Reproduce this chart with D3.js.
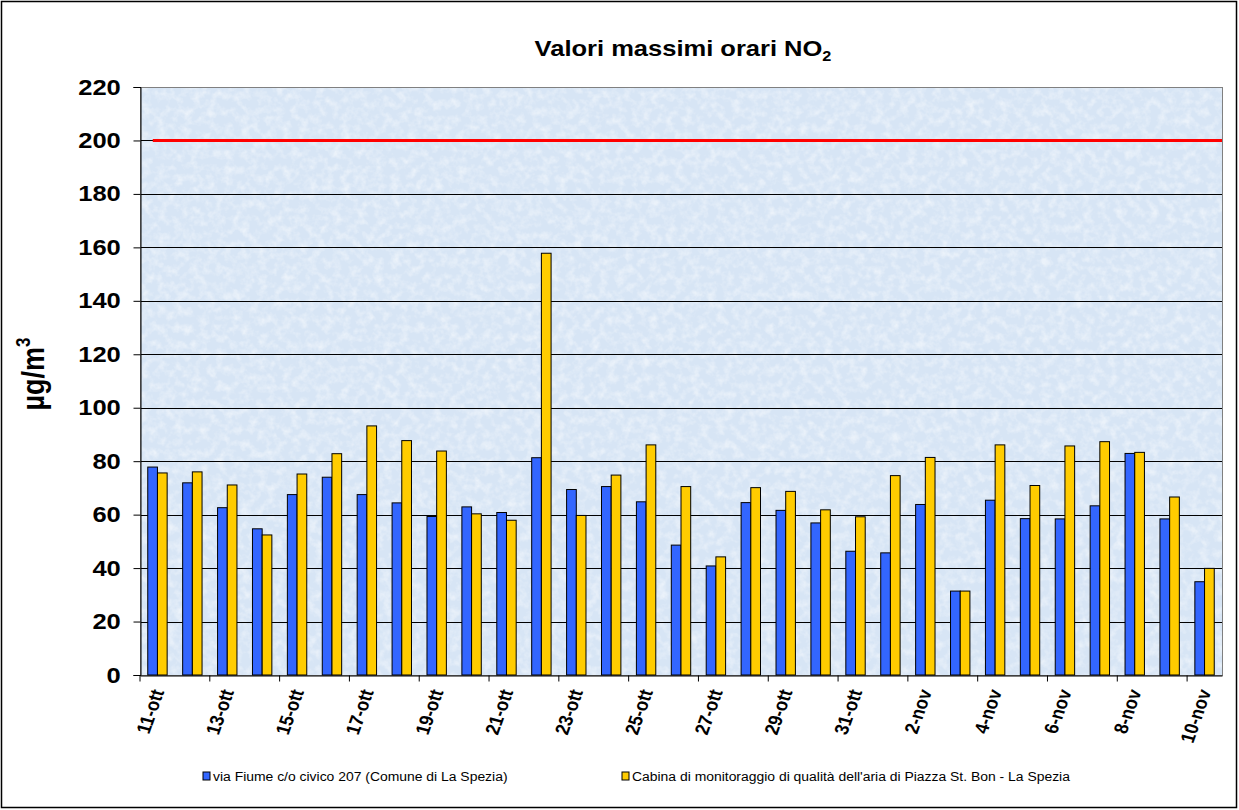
<!DOCTYPE html>
<html>
<head>
<meta charset="utf-8">
<script src="https://cdn.jsdelivr.net/npm/d3@7"></script>
<style>
  body { margin: 0; background: #fff; }
  svg { display: block; font-family: Arial, "Liberation Sans", sans-serif; }
</style>
</head>
<body>
<div id="chart"></div>
<script>
const days = [
  '11-ott','12-ott','13-ott','14-ott','15-ott','16-ott','17-ott','18-ott','19-ott','20-ott',
  '21-ott','22-ott','23-ott','24-ott','25-ott','26-ott','27-ott','28-ott','29-ott','30-ott',
  '31-ott','1-nov','2-nov','3-nov','4-nov','5-nov','6-nov','7-nov','8-nov','9-nov','10-nov'
];
const viaFiume = [
  77.8, 71.9, 62.6, 54.7, 67.5, 74.0, 67.5, 64.4, 59.3, 62.9,
  60.8, 81.3, 69.4, 70.5, 64.8, 48.6, 40.8, 64.5, 61.6, 56.9,
  46.3, 45.7, 63.8, 31.4, 65.4, 58.5, 58.4, 63.3, 82.9, 58.4, 34.9
];
const stBon = [
  75.6, 76.0, 71.1, 52.4, 75.2, 82.8, 93.2, 87.7, 83.8, 60.3,
  57.9, 157.8, 59.7, 74.8, 86.1, 70.5, 44.2, 70.1, 68.7, 61.8,
  59.2, 74.6, 81.4, 31.4, 86.1, 70.9, 85.7, 87.3, 83.3, 66.6, 39.9
];
const seriesNames = [
  'via Fiume c/o civico 207 (Comune di La Spezia)',
  "Cabina di monitoraggio di qualità dell'aria di Piazza St. Bon - La Spezia"
];
const seriesColors = ['#3366ff', '#ffcc00'];
const yTicks = [0, 20, 40, 60, 80, 100, 120, 140, 160, 180, 200, 220];
const limitValue = 200;

const width = 1239, height = 810;
const plot = {left: 140, right: 1222, top: 87, bottom: 675};
// the original picture is a bit wider than its fonts: stretch text horizontally
const stretch = 1.16;

const svg = d3.select('#chart').append('svg')
  .attr('width', width)
  .attr('height', height);

// background texture
const defs = svg.append('defs');
const filter = defs.append('filter').attr('id', 'tex')
  .attr('x', 0).attr('y', 0).attr('width', 1).attr('height', 1);
filter.append('feTurbulence')
  .attr('type', 'fractalNoise')
  .attr('baseFrequency', 0.12)
  .attr('numOctaves', 3)
  .attr('seed', 7);
filter.append('feColorMatrix')
  .attr('type', 'matrix')
  .attr('values', '0 0 0 0 1  0 0 0 0 1  0 0 0 0 1  2.2 0 0 0 -0.9');

svg.append('rect')
  .attr('x', 1.5).attr('y', 1.5)
  .attr('width', width - 4).attr('height', height - 4)
  .attr('fill', '#fff')
  .attr('stroke', '#000')
  .attr('stroke-width', 1.5);

const x0 = d3.scaleBand().domain(days).range([plot.left, plot.right]);
const x1 = d3.scaleBand().domain([0, 1]).range([0, x0.bandwidth()]).paddingOuter(0.8);
const y = d3.scaleLinear().domain([0, 220]).range([plot.bottom, plot.top]);

svg.append('rect')
  .attr('x', plot.left).attr('y', plot.top)
  .attr('width', plot.right - plot.left).attr('height', plot.bottom - plot.top)
  .attr('fill', '#d7e5f5');
svg.append('rect')
  .attr('x', plot.left).attr('y', plot.top)
  .attr('width', plot.right - plot.left).attr('height', plot.bottom - plot.top)
  .attr('fill', '#fff')
  .attr('filter', 'url(#tex)')
  .attr('opacity', 0.5);

// gridlines
svg.append('g')
  .selectAll('line')
  .data(yTicks.filter(d => d > 0 && d < 220))
  .join('line')
  .attr('x1', plot.left).attr('x2', plot.right)
  .attr('y1', d => Math.round(y(d)) + 0.5)
  .attr('y2', d => Math.round(y(d)) + 0.5)
  .attr('stroke', '#000')
  .attr('stroke-width', 1);

// plot border
svg.append('rect')
  .attr('x', plot.left + 0.5).attr('y', plot.top + 0.5)
  .attr('width', plot.right - plot.left).attr('height', plot.bottom - plot.top)
  .attr('fill', 'none')
  .attr('stroke', '#808080');

// bars
const groups = svg.append('g')
  .selectAll('g')
  .data(days)
  .join('g')
  .attr('transform', d => `translate(${x0(d)},0)`);

groups.selectAll('rect')
  .data((d, i) => [viaFiume[i], stBon[i]])
  .join('rect')
  .attr('x', (d, j) => x1(j))
  .attr('y', d => y(d))
  .attr('width', x1.bandwidth())
  .attr('height', d => y(0) - y(d))
  .attr('fill', (d, j) => seriesColors[j])
  .attr('stroke', '#000')
  .attr('stroke-width', 1);

// limit line
svg.append('line')
  .attr('x1', x0(days[0]) + x1(0) + 5)
  .attr('x2', plot.right)
  .attr('y1', y(limitValue))
  .attr('y2', y(limitValue))
  .attr('stroke', '#ff0000')
  .attr('stroke-width', 3);

// y axis
const yAxis = svg.append('g')
  .attr('transform', `translate(${plot.left + 0.5},0)`)
  .call(d3.axisLeft(y).tickValues(yTicks).tickSize(7).tickPadding(10));
yAxis.select('.domain').attr('stroke', '#000');
yAxis.selectAll('text')
  .attr('font-size', 22)
  .attr('font-weight', 'bold')
  .attr('font-family', 'Arial, "Liberation Sans", sans-serif')
  .attr('fill', '#000')
  .attr('transform', `scale(${stretch},1)`);

// x axis
const labelDays = days.filter((d, i) => i % 2 === 0);
const xAxis = svg.append('g')
  .attr('transform', `translate(0,${plot.bottom + 0.5})`)
  .call(d3.axisBottom(x0).tickValues(labelDays).tickSize(6).tickSizeOuter(0));
xAxis.select('.domain').attr('stroke', '#000');
xAxis.selectAll('.tick line')
  .attr('transform', `translate(${-x0.bandwidth() / 2},0)`);
xAxis.selectAll('.tick text')
  .attr('font-size', 17)
  .attr('font-weight', 'bold')
  .attr('font-family', 'Arial, "Liberation Sans", sans-serif')
  .attr('fill', '#000')
  .attr('text-anchor', 'end')
  .attr('dy', null)
  .attr('y', 0)
  .attr('transform', `translate(7,16) scale(${stretch},1) rotate(-73)`);

// title
const title = svg.append('text')
  .attr('transform', `translate(683,56) scale(${stretch},1)`)
  .attr('text-anchor', 'middle')
  .attr('font-size', 22)
  .attr('font-weight', 'bold');
title.append('tspan').text('Valori massimi orari NO');
title.append('tspan').text('2').attr('font-size', 14).attr('dy', 5);

// y label
const yLabel = svg.append('text')
  .attr('transform', `translate(44,374) scale(${stretch},1) rotate(-90)`)
  .attr('text-anchor', 'middle')
  .attr('font-size', 27)
  .attr('font-weight', 'bold');
yLabel.append('tspan').text('µg/m');
yLabel.append('tspan').text('3').attr('font-size', 17).attr('dy', -12);

// legend
const legendX = [203, 622];
const legend = svg.append('g')
  .selectAll('g')
  .data(seriesNames)
  .join('g')
  .attr('transform', (d, i) => `translate(${legendX[i]},772)`);
legend.append('rect')
  .attr('width', 7).attr('height', 8)
  .attr('fill', (d, i) => seriesColors[i])
  .attr('stroke', '#000')
  .attr('stroke-width', 1);
legend.append('text')
  .attr('transform', `translate(10,9) scale(${stretch},1)`)
  .attr('font-size', 12)
  .text(d => d);
</script>
</body>
</html>
